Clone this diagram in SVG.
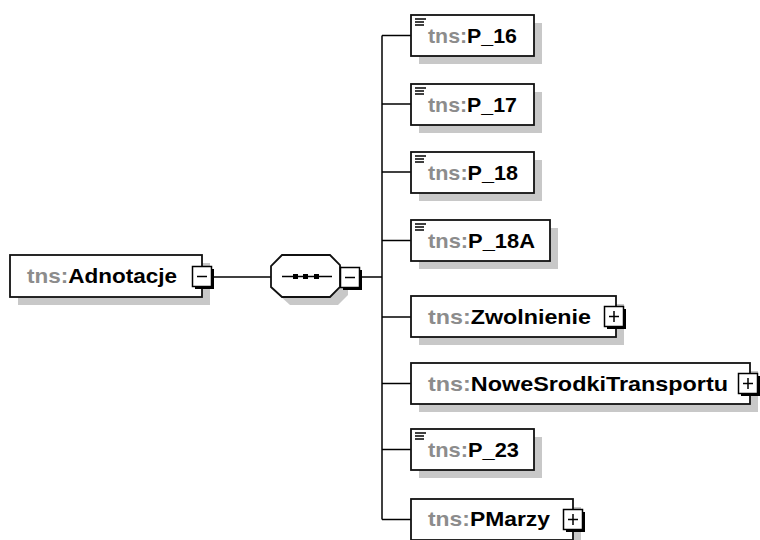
<svg xmlns="http://www.w3.org/2000/svg" width="760" height="540" viewBox="0 0 760 540">
<style>
.bg{fill:#fff}
.sh{fill:#c8c8c8}
.box{fill:#fff;stroke:#111;stroke-width:1.8}
.btn{fill:#fff;stroke:#000;stroke-width:1.5}
.btnsh{fill:#000}
.ln{stroke:#000;stroke-width:1.5;fill:none}
.ic{stroke:#000;stroke-width:1.5}
text{font-family:"Liberation Sans",Arial,sans-serif;font-weight:bold;font-size:20.5px}
.px{fill:#8c8c8c}
.nm{fill:#000}
</style>
<rect class="bg" x="0" y="0" width="760" height="540"/>
<g id="connectors">
<line class="ln" x1="214" y1="277" x2="271" y2="277"/>
<line class="ln" x1="362" y1="277" x2="382" y2="277"/>
<line class="ln" x1="382" y1="35.5" x2="382" y2="519.5"/>
<line class="ln" x1="382" y1="35.5" x2="411" y2="35.5"/>
<line class="ln" x1="382" y1="104" x2="411" y2="104"/>
<line class="ln" x1="382" y1="172" x2="411" y2="172"/>
<line class="ln" x1="382" y1="240.5" x2="411" y2="240.5"/>
<line class="ln" x1="382" y1="317" x2="411" y2="317"/>
<line class="ln" x1="382" y1="383.5" x2="411" y2="383.5"/>
<line class="ln" x1="382" y1="449.5" x2="411" y2="449.5"/>
<line class="ln" x1="382" y1="519.5" x2="411" y2="519.5"/>
</g>
<g id="Adnotacje">
<rect class="sh" x="18" y="263" width="192" height="42"/>
<rect class="box" x="10" y="255" width="192" height="42"/>
<text x="27" y="283" textLength="150" lengthAdjust="spacingAndGlyphs"><tspan class="px">tns:</tspan><tspan class="nm">Adnotacje</tspan></text>
<rect class="btnsh" x="195" y="269" width="19" height="20"/>
<rect class="btn" x="192.5" y="266.5" width="19" height="20"/>
<line class="ic" x1="197" y1="276.5" x2="207" y2="276.5"/>
</g>
<g id="sequence">
<polygon class="sh" points="290,263 338,263 348,273 348,295 338,305 290,305 279,295 279,274"/>
<polygon class="box" points="282,255 330,255 340,265 340,287 330,297 282,297 271,287 271,266"/>
<line class="ln" x1="282" y1="276.5" x2="332" y2="276.5"/>
<rect x="293" y="274" width="5" height="5" fill="#000"/>
<rect x="303" y="274" width="5" height="5" fill="#000"/>
<rect x="314" y="274" width="5" height="5" fill="#000"/>
<rect class="btnsh" x="343" y="270" width="19" height="20"/>
<rect class="btn" x="340.5" y="267.5" width="19" height="20"/>
<line class="ic" x1="345" y1="277.5" x2="355" y2="277.5"/>
</g>
<g id="P_16">
<rect class="sh" x="419" y="23" width="123" height="41"/>
<rect class="box" x="411" y="15" width="123" height="41"/>
<line class="ic" x1="415" y1="19" x2="426" y2="19"/><line class="ic" x1="415" y1="22" x2="424" y2="22"/><line class="ic" x1="415" y1="25" x2="424" y2="25"/>
<text x="428" y="43" textLength="89" lengthAdjust="spacingAndGlyphs"><tspan class="px">tns:</tspan><tspan class="nm">P_16</tspan></text>
</g>
<g id="P_17">
<rect class="sh" x="419" y="92" width="123" height="41"/>
<rect class="box" x="411" y="84" width="123" height="41"/>
<line class="ic" x1="415" y1="88" x2="426" y2="88"/><line class="ic" x1="415" y1="91" x2="424" y2="91"/><line class="ic" x1="415" y1="94" x2="424" y2="94"/>
<text x="428" y="112" textLength="89" lengthAdjust="spacingAndGlyphs"><tspan class="px">tns:</tspan><tspan class="nm">P_17</tspan></text>
</g>
<g id="P_18">
<rect class="sh" x="419" y="160" width="123" height="41"/>
<rect class="box" x="411" y="152" width="123" height="41"/>
<line class="ic" x1="415" y1="156" x2="426" y2="156"/><line class="ic" x1="415" y1="159" x2="424" y2="159"/><line class="ic" x1="415" y1="162" x2="424" y2="162"/>
<text x="428" y="180" textLength="90" lengthAdjust="spacingAndGlyphs"><tspan class="px">tns:</tspan><tspan class="nm">P_18</tspan></text>
</g>
<g id="P_18A">
<rect class="sh" x="419" y="228" width="139" height="41"/>
<rect class="box" x="411" y="220" width="139" height="41"/>
<line class="ic" x1="415" y1="224" x2="426" y2="224"/><line class="ic" x1="415" y1="227" x2="424" y2="227"/><line class="ic" x1="415" y1="230" x2="424" y2="230"/>
<text x="428" y="248" textLength="107" lengthAdjust="spacingAndGlyphs"><tspan class="px">tns:</tspan><tspan class="nm">P_18A</tspan></text>
</g>
<g id="Zwolnienie">
<rect class="sh" x="419" y="304" width="205" height="41"/>
<rect class="box" x="411" y="296" width="205" height="41"/>
<text x="428" y="324" textLength="163" lengthAdjust="spacingAndGlyphs"><tspan class="px">tns:</tspan><tspan class="nm">Zwolnienie</tspan></text>
<rect class="btnsh" x="607" y="309" width="19" height="20"/>
<rect class="btn" x="604.5" y="306.5" width="19" height="20"/>
<line class="ic" x1="609" y1="316.5" x2="619" y2="316.5"/><line class="ic" x1="614" y1="311" x2="614" y2="322"/>
</g>
<g id="NoweSrodkiTransportu">
<rect class="sh" x="419" y="371" width="339" height="41"/>
<rect class="box" x="411" y="363" width="339" height="41"/>
<text x="428" y="391" textLength="300" lengthAdjust="spacingAndGlyphs"><tspan class="px">tns:</tspan><tspan class="nm">NoweSrodkiTransportu</tspan></text>
<rect class="btnsh" x="741" y="376" width="19" height="20"/>
<rect class="btn" x="738.5" y="373.5" width="19" height="20"/>
<line class="ic" x1="743" y1="383.5" x2="753" y2="383.5"/><line class="ic" x1="748" y1="378" x2="748" y2="389"/>
</g>
<g id="P_23">
<rect class="sh" x="419" y="437" width="123" height="41"/>
<rect class="box" x="411" y="429" width="123" height="41"/>
<line class="ic" x1="415" y1="433" x2="426" y2="433"/><line class="ic" x1="415" y1="436" x2="424" y2="436"/><line class="ic" x1="415" y1="439" x2="424" y2="439"/>
<text x="428" y="457" textLength="91" lengthAdjust="spacingAndGlyphs"><tspan class="px">tns:</tspan><tspan class="nm">P_23</tspan></text>
</g>
<g id="PMarzy">
<rect class="sh" x="419" y="507" width="162" height="41"/>
<rect class="box" x="411" y="499" width="162" height="41"/>
<text x="428" y="526" textLength="122" lengthAdjust="spacingAndGlyphs"><tspan class="px">tns:</tspan><tspan class="nm">PMarzy</tspan></text>
<rect class="btnsh" x="566" y="512" width="19" height="20"/>
<rect class="btn" x="563.5" y="509.5" width="19" height="20"/>
<line class="ic" x1="568" y1="519.5" x2="578" y2="519.5"/><line class="ic" x1="573" y1="514" x2="573" y2="525"/>
</g>
</svg>
